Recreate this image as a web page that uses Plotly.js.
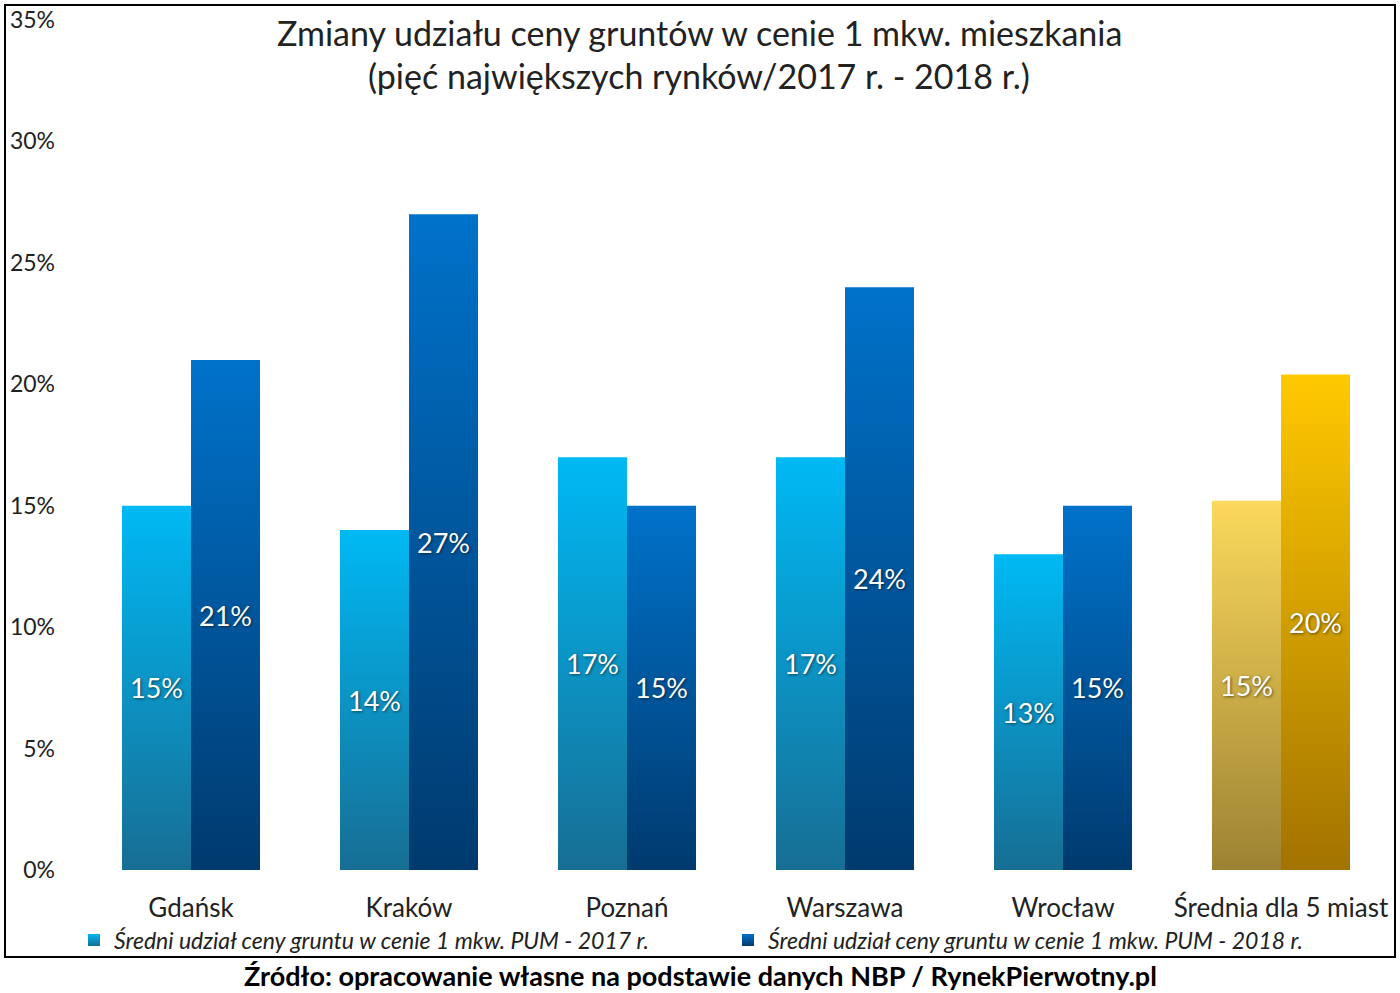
<!DOCTYPE html>
<html>
<head>
<meta charset="utf-8">
<script src="https://cdn.plot.ly/plotly-3.0.1.min.js"></script>
<style>
    body { margin: 0; background: #fff; }
    #chart { width: 1400px; height: 993px; }
</style>
</head>
<body>
<svg width="0" height="0" style="position:absolute">
    <defs>
        <linearGradient id="blue2017" x1="0" y1="0" x2="0" y2="1">
            <stop offset="0" stop-color="#00b9f4"/>
            <stop offset="1" stop-color="#176e94"/>
        </linearGradient>
        <linearGradient id="blue2018" x1="0" y1="0" x2="0" y2="1">
            <stop offset="0" stop-color="#0072ca"/>
            <stop offset="1" stop-color="#003a6e"/>
        </linearGradient>
        <linearGradient id="gold2017" x1="0" y1="0" x2="0" y2="1">
            <stop offset="0" stop-color="#fbd95c"/>
            <stop offset="1" stop-color="#9d8233"/>
        </linearGradient>
        <linearGradient id="gold2018" x1="0" y1="0" x2="0" y2="1">
            <stop offset="0" stop-color="#ffc900"/>
            <stop offset="1" stop-color="#a27300"/>
        </linearGradient>
    </defs>
</svg>
<div id="chart"></div>
<script>
let cities = ['Gdańsk', 'Kraków', 'Poznań', 'Warszawa', 'Wrocław', 'Średnia dla 5 miast']
let share2017 = [15, 14, 17, 17, 13, 15.2]
let share2018 = [21, 27, 15, 24, 15, 20.4]
let labels2017 = ['15%', '14%', '17%', '17%', '13%', '15%']
let labels2018 = ['21%', '27%', '15%', '24%', '15%', '20%']
let yTicks = [0, 5, 10, 15, 20, 25, 30, 35]
let yTickText = ['0%', '5%', '10%', '15%', '20%', '25%', '30%', '35%']
let titleLines = ['Zmiany udziału ceny gruntów w cenie 1 mkw. mieszkania', '(pięć największych rynków/2017 r. - 2018 r.)']
let sourceText = 'Źródło: opracowanie własne na podstawie danych NBP / RynekPierwotny.pl'

let fontName = 'Lato, "Open Sans", sans-serif'
let textColor = '#222'

let labelFont = {
    family: fontName, size: 27, color: '#fff',
    shadow: '1px 1px 3px rgba(0,0,0,0.55)'
}

let trace2017 = {
    type: 'bar', x: cities, y: share2017,
    name: 'Średni udział ceny gruntu w cenie 1 mkw. PUM - 2017 r.',
    text: labels2017, textposition: 'inside', insidetextanchor: 'middle',
    textfont: labelFont, textangle: 0,
    marker: { color: ['#00a0d8', '#00a0d8', '#00a0d8', '#00a0d8', '#00a0d8', '#e0be4a'] },
    hoverinfo: 'none'
}

let trace2018 = {
    type: 'bar', x: cities, y: share2018,
    name: 'Średni udział ceny gruntu w cenie 1 mkw. PUM - 2018 r.',
    text: labels2018, textposition: 'inside', insidetextanchor: 'middle',
    textfont: labelFont, textangle: 0,
    marker: { color: ['#0058a0', '#0058a0', '#0058a0', '#0058a0', '#0058a0', '#d9a000'] },
    hoverinfo: 'none'
}

// plot area: x 82..1390, y 20..870
let L = 82, R = 1390, T = 20, B = 870
let px = v => (v - L) / (R - L)
let py = v => (B - v) / (B - T)

let layout = {
    width: 1400,
    height: 993,
    margin: { l: L, r: 1400 - R, t: T, b: 993 - B, pad: 0 },
    paper_bgcolor: '#fff',
    plot_bgcolor: 'rgba(0,0,0,0)',
    font: { family: fontName, color: textColor },
    barmode: 'group',
    bargap: 0.367,
    bargroupgap: 0,
    showlegend: true,
    xaxis: {
        showgrid: false, zeroline: false, showline: false, ticks: '',
        tickfont: { family: fontName, size: 26, color: textColor },
        ticklabelstandoff: 20
    },
    yaxis: {
        range: [0, 35], showgrid: false, zeroline: false, showline: false, ticks: '',
        tickvals: yTicks, ticktext: yTickText,
        tickfont: { family: fontName, size: 23, color: textColor },
        ticklabelstandoff: 26
    },
    legend: {
        orientation: 'h', x: px(728), xanchor: 'center',
        y: py(940), yanchor: 'middle',
        bgcolor: 'rgba(0,0,0,0)',
        font: { family: fontName, size: 23, color: textColor, style: 'italic' },
        itemwidth: 30, entrywidth: 609, entrywidthmode: 'pixels',
        traceorder: 'normal'
    },
    shapes: [{
        type: 'rect', xref: 'paper', yref: 'paper',
        x0: px(5), x1: px(1395), y0: py(957), y1: py(5),
        line: { color: '#000', width: 2 }, fillcolor: 'rgba(0,0,0,0)', layer: 'below'
    }],
    annotations: [
        {
            text: titleLines[0], xref: 'paper', yref: 'paper', x: px(699), y: py(32),
            xanchor: 'center', yanchor: 'middle', showarrow: false,
            font: { family: fontName, size: 34, color: textColor }
        },
        {
            text: titleLines[1], xref: 'paper', yref: 'paper', x: px(699), y: py(75),
            xanchor: 'center', yanchor: 'middle', showarrow: false,
            font: { family: fontName, size: 34, color: textColor }
        },
        {
            text: '<b>' + sourceText + '</b>',
            xref: 'paper', yref: 'paper', x: px(700), y: py(975),
            xanchor: 'center', yanchor: 'middle', showarrow: false,
            font: { family: fontName, size: 27, color: '#000' }
        }
    ]
}

let gd = document.getElementById('chart')

Plotly.newPlot(gd, [trace2017, trace2018], layout, { staticPlot: true }).then(() => {
    let fills = [['blue2017', 'gold2017'], ['blue2018', 'gold2018']]
    gd.querySelectorAll('.barlayer .trace').forEach((t, i) => {
        t.querySelectorAll('.point path').forEach((p, j) => {
            let id = j == cities.length - 1 ? fills[i][1] : fills[i][0]
            p.style.fill = `url(#${id})`
        })
    })
    gd.querySelectorAll('.legend .traces').forEach((t, i) => {
        t.querySelectorAll('.legendpoints path').forEach(p => {
            p.style.fill = `url(#${fills[i][0]})`
        })
    })
})
</script>
</body>
</html>
